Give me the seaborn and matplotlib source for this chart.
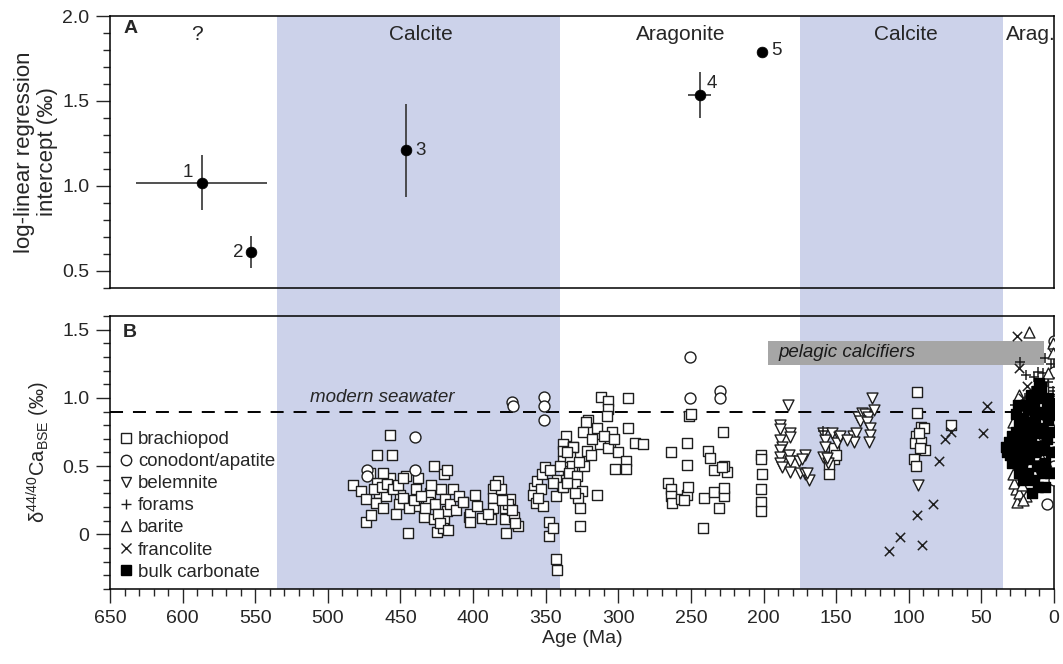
import matplotlib
matplotlib.use("Agg")
import matplotlib.pyplot as plt
from matplotlib.lines import Line2D
from matplotlib.patches import Rectangle
from matplotlib.ticker import MultipleLocator, FuncFormatter
import pandas as pd
import seaborn as sns

# ---------------------------------------------------------------- data
# Panel A: log-linear regression intercepts
intercept_id = ["1", "2", "3", "4", "5"]
intercept_age = [587, 553, 446, 244, 201]
intercept_val = [1.02, 0.61, 1.21, 1.535, 1.79]
intercept_age_err = [45, 0, 0, 8, 0]
intercept_val_err = [0.16, 0.095, 0.275, 0.135, 0]

# Seawater chemistry intervals (Ma)
calcite_start = [535, 175]
calcite_end = [340, 35]
mineralogy_label = ["?", "Calcite", "Aragonite", "Calcite", "Arag."]
mineralogy_age = [590, 436, 257, 102, 16]

# Panel B: d44/40Ca by archive
brach_age = [483, 477, 474, 474, 470, 466, 457, 456, 466, 465, 467, 457, 460, 462,
             450, 451, 453, 446, 445, 438, 439, 439, 434, 427, 420, 418, 430, 431,
             426, 427, 425, 422, 419, 418, 414, 407, 420, 403,
             468, 463, 459, 455, 452, 448, 444, 441, 436, 433, 429, 424, 421, 416,
             412, 410, 423, 417, 471, 462, 448,
             407, 399, 402, 402, 394, 388, 383, 386.5, 386.5, 386.5, 381, 378, 378,
             377, 374.5, 372, 369, 385, 376, 373, 371, 390, 380, 397,
             358, 358.5, 355.7, 352.7, 350.4, 357, 351.6, 347.4, 348, 344.7, 342.8,
             342.4, 347, 342.4, 338.9, 336, 337.8, 338.2, 337.8, 334.4, 331.4, 345,
             340, 336, 343, 353, 355,
             312, 307, 307, 308, 293, 320.6, 322, 324.5, 315, 304.5, 293, 312.5,
             305.6, 306.8, 288.4, 283, 300, 294.6, 302, 294.6, 331, 333, 332, 334,
             328.6, 323.6, 321.8, 329.8, 325, 327.5, 326.3, 314.4, 326.3, 337.8,
             335.5, 318, 310, 303, 327, 330, 335, 319,
             266, 264, 264, 263, 264, 257, 253, 252, 253, 253, 251, 242, 241, 234,
             231, 227, 227, 225, 227, 227.6, 238, 237, 234, 228.7, 255, 250,
             202, 202, 201, 202, 202, 202,
             151.8, 151.8, 154.6, 154.6, 150,
             94, 94, 91.7, 89.4, 94.9, 95.6, 91.7, 88.7, 92.2, 96.1, 94.9, 93, 71,
             0.5, 0.5, 0.5, 0.5, 0.5, 0.5, 0.5, 0.5, 1.5, 1.5]
brach_d44 = [0.36, 0.32, 0.26, 0.09, 0.14, 0.58, 0.73, 0.58, 0.38, 0.30, 0.23, 0.41, 0.28, 0.19,
             0.29, 0.22, 0.15, 0.43, 0.01, 0.41, 0.33, 0.21, 0.13, 0.50, 0.44, 0.47, 0.30, 0.24,
             0.22, 0.11, 0.02, 0.33, 0.26, 0.17, 0.33, 0.24, 0.10, 0.13,
             0.33, 0.35, 0.37, 0.33, 0.36, 0.27, 0.19, 0.25, 0.28, 0.19, 0.36, 0.15, 0.05, 0.22,
             0.18, 0.28, 0.08, 0.03, 0.45, 0.45, 0.41,
             0.24, 0.29, 0.15, 0.09, 0.12, 0.11, 0.39, 0.33, 0.27, 0.19, 0.33, 0.19, 0.11,
             0.01, 0.26, 0.13, 0.06, 0.36, 0.22, 0.18, 0.08, 0.15, 0.25, 0.21,
             0.34, 0.29, 0.39, 0.44, 0.49, 0.23, 0.21, 0.09, -0.01, 0.05, -0.18,
             -0.26, 0.47, 0.40, 0.35, 0.72, 0.66, 0.61, 0.54, 0.45, 0.64, 0.38,
             0.50, 0.40, 0.28, 0.33, 0.27,
             1.01, 0.98, 0.92, 0.87, 1.00, 0.84, 0.82, 0.75, 0.78, 0.75, 0.78, 0.66,
             0.68, 0.63, 0.67, 0.66, 0.60, 0.54, 0.48, 0.48, 0.64, 0.57, 0.50, 0.45,
             0.43, 0.50, 0.61, 0.37, 0.32, 0.27, 0.19, 0.29, 0.06, 0.35,
             0.38, 0.70, 0.72, 0.70, 0.53, 0.30, 0.60, 0.58,
             0.38, 0.33, 0.28, 0.23, 0.60, 0.26, 0.29, 0.35, 0.51, 0.67, 0.87, 0.05, 0.27, 0.31,
             0.19, 0.28, 0.34, 0.46, 0.50, 0.75, 0.61, 0.56, 0.47, 0.49, 0.25, 0.88,
             0.58, 0.55, 0.44, 0.33, 0.24, 0.17,
             0.63, 0.55, 0.51, 0.44, 0.58,
             1.04, 0.89, 0.79, 0.78, 0.72, 0.67, 0.68, 0.62, 0.63, 0.55, 0.50, 0.74, 0.80,
             1.06, 0.99, 0.91, 0.84, 0.77, 0.69, 0.64, 1.12, 0.95, 0.80]

conodont_age = [473, 473, 440, 440, 373.4, 372.7, 351, 351, 351, 250.5, 250.5, 230, 230,
                0.3, 0.3, 0.3, 1.0, 0.3, 0.3, 0.3, 0.3, 0.3, 4.6]
conodont_d44 = [0.47, 0.43, 0.71, 0.47, 0.97, 0.94, 1.01, 0.94, 0.84, 1.30, 1.00, 1.05, 1.00,
                1.42, 1.37, 1.19, 0.98, 0.60, 0.55, 0.50, 0.45, 0.40, 0.22]

belemnite_age = [182.9, 188.6, 188.6, 181.7, 181.7, 188.6, 187.4, 188.6, 188.6, 182.2, 181.7,
                 188.6, 187.4, 181.7, 171.4, 175.3, 174.8, 171.4, 168.4, 173.7, 170.2,
                 158.7, 153, 147.7, 157.6, 157.6, 158.7, 155.3, 149.1, 156.4, 138.6, 136.2,
                 138, 134.6, 132.3, 130, 127.8, 133.4, 128.9, 126.6, 126.6, 127.1, 125.4,
                 124, 147.2, 142.7, 93.8]
belemnite_d44 = [0.95, 0.80, 0.77, 0.74, 0.71, 0.69, 0.64, 0.62, 0.57, 0.58, 0.54,
                 0.52, 0.49, 0.46, 0.58, 0.54, 0.45, 0.44, 0.40, 0.55, 0.45,
                 0.74, 0.74, 0.71, 0.69, 0.64, 0.57, 0.52, 0.67, 0.56, 0.72, 0.74,
                 0.68, 0.86, 0.89, 0.88, 0.86, 0.83, 0.82, 0.78, 0.73, 0.68, 1.00,
                 0.91, 0.72, 0.69, 0.36]

foram_age = [158.7, 6, 23.3, 19.4, 10.7, 7.3, 15, 20, 12, 8, 4, 2, 17, 25, 27, 10, 1, 14]
foram_d44 = [0.76, 1.29, 1.26, 1.17, 1.19, 1.18, 1.05, 1.00, 0.92, 1.10, 1.12, 1.25, 0.88,
             0.86, 0.95, 0.80, 1.05, 1.15]

barite_age = [17.4, 0.5, 0.5, 3.8, 25.7, 19.3, 26.1, 27.2, 28.4, 24, 22, 20, 23, 26, 28, 27,
              25, 22, 18, 15, 12, 10, 8, 6, 21, 14, 16, 9, 5, 13, 4, 2, 30, 24, 19]
barite_d44 = [1.48, 1.40, 1.33, 1.18, 0.24, 0.28, 0.33, 0.38, 0.44, 0.30, 0.36, 0.42, 0.50,
              0.55, 0.82, 0.70, 0.90, 0.95, 0.85, 0.65, 0.58, 0.70, 0.55, 0.66, 0.25, 0.45,
              0.52, 0.82, 0.78, 0.72, 0.50, 0.80, 0.62, 1.02, 0.98]

francolite_age = [25.7, 24.4, 18.7, 21, 16, 46.3, 49, 75, 71, 78.9, 83, 94, 106, 91, 113.9, 20, 12]
francolite_d44 = [1.45, 1.22, 1.09, 1.00, 0.95, 0.94, 0.74, 0.70, 0.75, 0.54, 0.22, 0.14,
                  -0.02, -0.08, -0.12, 0.72, 0.66]

bulk_age = [33, 32, 31, 30, 29, 28, 27, 26, 25, 24, 23, 22, 21, 20, 19, 18, 17, 16, 15, 14,
            13, 12, 11, 10, 10.5, 9, 8, 7, 6, 5, 4, 3, 2, 1.5, 1, 22, 18, 14, 12, 8, 6, 20,
            16, 12, 26, 29, 24, 9, 4, 15, 11, 3, 7, 17, 13, 19, 25, 27, 21, 5]
bulk_d44 = [0.64, 0.60, 0.68, 0.58, 0.72, 0.62, 0.55, 0.75, 0.66, 0.80, 0.58, 0.70, 0.85,
            0.62, 0.76, 0.92, 0.55, 0.68, 0.82, 0.95, 0.60, 0.74, 0.88, 1.00, 1.11, 0.65,
            0.78, 0.90, 0.52, 0.70, 0.84, 0.96, 0.60, 0.75, 0.88, 0.48, 0.45, 0.40, 0.50,
            0.45, 0.35, 0.95, 1.02, 1.05, 0.88, 0.52, 0.45, 1.08, 1.00, 0.30, 0.35, 0.45,
            0.62, 0.80, 0.86, 0.56, 0.95, 0.70, 0.40, 0.92]

modern_seawater = 0.90

# ---------------------------------------------------------------- style
sns.set_style("ticks")
plt.rcParams["font.family"] = ["Liberation Sans", "DejaVu Sans"]
plt.rcParams["mathtext.fontset"] = "custom"
plt.rcParams["mathtext.rm"] = "Liberation Sans"
plt.rcParams["mathtext.it"] = "Liberation Sans:italic"
plt.rcParams["mathtext.bf"] = "Liberation Sans:bold"

BAND = "#ccd2ea"
EDGE = "#1e1e1e"
TICK_FS = 14
TEXT_FS = 13.5

fig = plt.figure(figsize=(10.63, 6.64), dpi=100)
ax1 = fig.add_axes([0.1035, 0.5663, 0.888, 0.4096])
ax2 = fig.add_axes([0.1035, 0.1130, 0.888, 0.4111])

for ax in (ax1, ax2):
    ax.set_xlim(650, 0)
    for sp in ax.spines.values():
        sp.set_linewidth(1.1)
        sp.set_color("black")

# shaded calcite-sea intervals, running through the gap between panels
for s, e in zip(calcite_start, calcite_end):
    ax1.axvspan(e, s, ymin=-0.11, ymax=1, color=BAND, lw=0, zorder=0, clip_on=False)
    ax2.axvspan(e, s, color=BAND, lw=0, zorder=0)

# ---------------------------------------------------------------- panel A
ax1.set_ylim(0.4, 2.0)
ax1.errorbar(intercept_age, intercept_val,
             xerr=intercept_age_err, yerr=intercept_val_err,
             fmt="none", ecolor="#333333", elinewidth=1.2, capsize=0, zorder=2)
dfA = pd.DataFrame({"age": intercept_age, "val": intercept_val})
sns.scatterplot(data=dfA, x="age", y="val", ax=ax1, color="black", s=60,
                edgecolor="black", linewidth=0.5, zorder=3, legend=False)
label_offsets = {"1": (-10, 7), "2": (-9, 0), "3": (10, 0), "4": (9, 8), "5": (10, 1)}
for lab, x, y in zip(intercept_id, intercept_age, intercept_val):
    ax1.annotate(lab, (x, y), xytext=label_offsets[lab], textcoords="offset points",
                 ha="center", va="center", fontsize=13.5)
for lab, x in zip(mineralogy_label, mineralogy_age):
    ax1.text(x, 1.89, lab, ha="center", va="center", fontsize=15, clip_on=False)

ax1.yaxis.set_major_locator(MultipleLocator(0.5))
ax1.yaxis.set_minor_locator(MultipleLocator(0.1))
ax1.yaxis.set_major_formatter(FuncFormatter(lambda v, p: f"{v:.1f}"))
ax1.tick_params(axis="x", which="both", bottom=False, labelbottom=False)
ax1.tick_params(axis="y", which="major", direction="out", length=10, width=1.0,
                labelsize=TICK_FS, pad=5)
ax1.tick_params(axis="y", which="minor", direction="out", length=5, width=1.0)
ax1.set_xlabel("")
ax1.set_ylabel("log-linear regression\nintercept (‰)", fontsize=16, labelpad=3,
               linespacing=1.1)
ax1.text(0.014, 0.955, "A", transform=ax1.transAxes, fontweight="bold",
         fontsize=14, ha="left", va="center")

# ---------------------------------------------------------------- panel B
ax2.set_ylim(-0.4, 1.6)
ax2.add_patch(Rectangle((7, 1.24), 190, 0.18, facecolor="#a6a6a6", edgecolor="none",
                        zorder=1))
ax2.text(190, 1.33, "pelagic calcifiers", style="italic", fontsize=TEXT_FS,
         ha="left", va="center", color="#1a1a1a", zorder=1.2)
ax2.axhline(modern_seawater, color="black", lw=1.4, ls=(0, (6.7, 5.1)), zorder=1.5)
ax2.text(512, 1.0, "modern seawater", style="italic", fontsize=TEXT_FS,
         ha="left", va="center")

series = [
    ("brachiopod", brach_age, brach_d44, "s", "white", EDGE),
    ("conodont/apatite", conodont_age, conodont_d44, "o", "white", EDGE),
    ("belemnite", belemnite_age, belemnite_d44, "v", "white", EDGE),
    ("forams", foram_age, foram_d44, "+", EDGE, EDGE),
    ("barite", barite_age, barite_d44, "^", "white", EDGE),
    ("francolite", francolite_age, francolite_d44, "x", EDGE, EDGE),
    ("bulk carbonate", bulk_age, bulk_d44, "s", "black", "black"),
]
handles = []
for name, ages, vals, mk, fc, ec in series:
    df = pd.DataFrame({"age": ages, "d44": vals})
    if mk in ("+", "x"):
        sns.scatterplot(data=df, x="age", y="d44", ax=ax2, marker=mk, s=45,
                        color=ec, linewidth=1.1, zorder=3, legend=False)
    else:
        sns.scatterplot(data=df, x="age", y="d44", ax=ax2, marker=mk, s=62,
                        facecolor=fc, edgecolor=ec, linewidth=1.0, zorder=3,
                        legend=False)
    handles.append(Line2D([], [], ls="none", marker=mk, markersize=7.5,
                          markerfacecolor=fc, markeredgecolor=ec,
                          markeredgewidth=1.0, color=ec))

ax2.legend(handles, [s[0] for s in series], loc="lower left",
           bbox_to_anchor=(0.0, 0.0), frameon=False, fontsize=13.4,
           handlelength=0.8, handletextpad=0.25, labelspacing=0.27,
           borderaxespad=0.15, borderpad=0.3)

ax2.xaxis.set_major_locator(MultipleLocator(50))
ax2.xaxis.set_minor_locator(MultipleLocator(10))
ax2.yaxis.set_major_locator(MultipleLocator(0.5))
ax2.yaxis.set_minor_locator(MultipleLocator(0.1))
ax2.yaxis.set_major_formatter(
    FuncFormatter(lambda v, p: "0" if abs(v) < 1e-9 else f"{v:.1f}"))
ax2.tick_params(which="major", direction="out", length=10, width=1.0,
                labelsize=TICK_FS, pad=5)
ax2.tick_params(which="minor", direction="out", length=5, width=1.0)
ax2.set_xlabel("Age (Ma)", fontsize=TICK_FS, labelpad=2)
ax2.set_ylabel(r"δ$^{44/40}$Ca$_{\mathrm{BSE}}$ (‰)", fontsize=14.5, labelpad=7)
ax2.text(0.014, 0.94, "B", transform=ax2.transAxes, fontweight="bold",
         fontsize=14, ha="left", va="center")

fig.savefig("out.png", dpi=100)
